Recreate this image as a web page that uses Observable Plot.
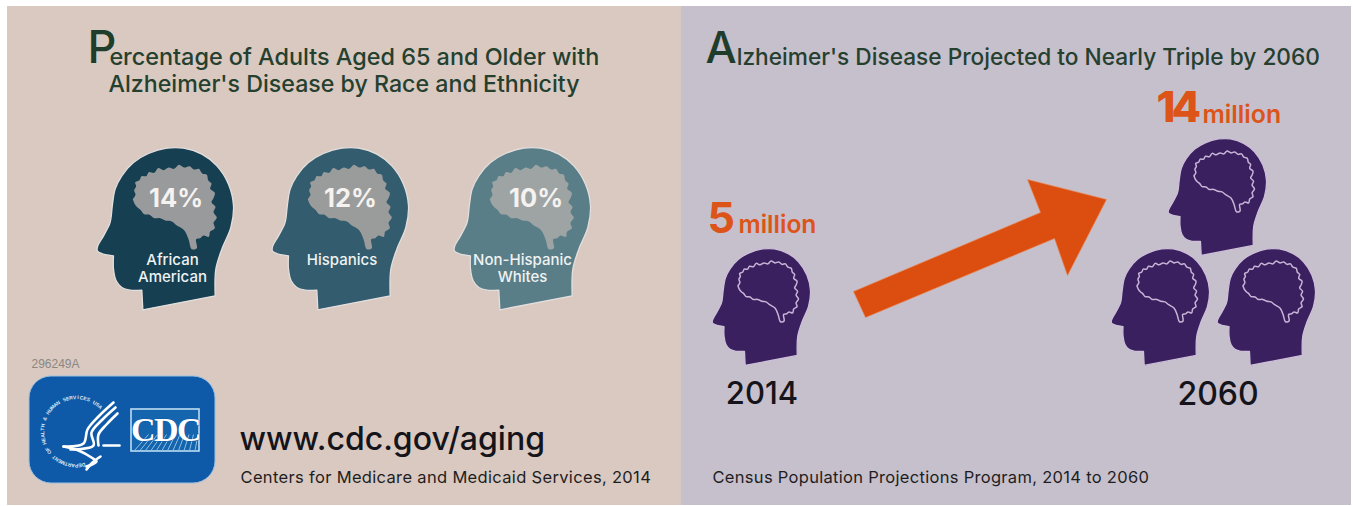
<!DOCTYPE html>
<html>
<head>
<meta charset="utf-8">
<title>Alzheimer's disease in older adults</title>
<style>
  html, body { margin: 0; padding: 0; background: #fff; }
  svg { display: block; }
</style>
<script src="https://cdn.jsdelivr.net/npm/d3@7"></script>
<script src="https://cdn.jsdelivr.net/npm/@observablehq/plot@0.6"></script>
</head>
<body>
<div id="chart"></div>
<script>
// Prevalence among adults aged 65 and older
const raceGroups = [["African", "American"], ["Hispanics"], ["Non-Hispanic", "Whites"]];
const racePercents = [14, 12, 10];
const raceHeadColors = ["#163f52", "#335d6e", "#5a7e88"];
const raceBrainColors = ["#989a9b", "#9a9c9c", "#9ea4a4"];

// National projection, in millions of people
const projectionYears = [2014, 2060];
const projectionMillions = [5, 14];
const millionsPerHead = 5;

// Head silhouette and brain contour, in drawing units of the glyph
const headOutline = [
  [188,507],[188,507],[185,448],[185,448],[150,448],[125,440],[108,420],[100,385],[100,345],[100,345],
  [70,340],[52,331],[52,318],[70,285],[88,250],[92,235],[97,190],[105,145],[125,105],[160,65],[205,38],[260,22],
  [310,22],[365,40],[410,75],[445,130],[460,195],[452,260],[425,325],[407,385],[405,465],[405,465],[188,507],[188,507]
];
const brainOutline = [
  [158,175],[166,162],[162,148],[168,136],[165,124],[178,118],[184,106],[198,106],[206,94],[222,96],[234,82],[250,88],
  [266,80],[282,84],[296,72],[312,80],[328,76],[342,86],[356,84],[366,98],[380,102],[384,118],[394,128],[390,144],
  [404,156],[400,172],[394,184],[406,198],[400,214],[410,230],[400,246],[404,262],[390,272],[386,288],[370,284],[360,292],
  [348,295],[350,322],[335,325],[325,295],[312,268],[290,254],[275,242],[258,240],[240,232],[222,232],[208,222],[192,220],
  [182,208],[172,200],[164,190],[158,175]
];
const arrowOutline = [[853,291],[1040,212],[1027,179],[1106,199],[1067,275],[1054,238],[865,317],[853,291]];

// HHS eagle strokes
const eagleStrokes = [
  [[113,402],[98,416],[87,429],[83,443],[63,446]],
  [[115,407],[102,419],[91,432],[93,445],[70,449]],
  [[117,413],[106,424],[98,434],[98,445]],
  [[63,446],[78,450],[91,457],[96,461],[86,466]],
  [[103,445],[119,445]],
  [[100,456],[92,462],[86,469]]
];
const sealText = "DEPARTMENT OF HEALTH & HUMAN SERVICES USA";

const titleLeft = ["Percentage of Adults Aged 65 and Older with", "Alzheimer's Disease by Race and Ethnicity"];
const titleRight = "Alzheimer's Disease Projected to Nearly Triple by 2060";
const sourceLeft = "Centers for Medicare and Medicaid Services, 2014";
const sourceRight = "Census Population Projections Program, 2014 to 2060";
const website = "www.cdc.gov/aging";
const documentId = "296249A";
const unitLabel = "million";

const FONT = "Inter, 'Noto Sans', sans-serif";

// Text helper: optional tracking, plus an enlarged first letter set in a tspan
function label(text, x, y, {tracking, initial, ...options} = {}) {
  return Plot.text([{text, x, y}], {
    x: "x", y: "y", text: "text",
    fontFamily: FONT, textAnchor: "start", lineAnchor: "middle", ...options,
    render(index, scales, values, dimensions, context, next) {
      const g = next(index, scales, values, dimensions, context);
      const node = g.querySelector("text");
      if (tracking != null) node.style.letterSpacing = `${tracking}px`;
      if (initial) {
        const content = node.textContent;
        node.textContent = "";
        const big = document.createElementNS("http://www.w3.org/2000/svg", "tspan");
        big.textContent = content[0];
        big.setAttribute("font-size", initial.size);
        big.setAttribute("fill", initial.fill);
        big.setAttribute("dy", initial.rise);
        big.style.letterSpacing = `${initial.tuck}px`;
        const rest = document.createElementNS("http://www.w3.org/2000/svg", "tspan");
        rest.textContent = content.slice(1);
        rest.setAttribute("dy", -initial.rise);
        node.append(big, rest);
      }
      return g;
    }
  });
}

function placed(points, left, top, scale) {
  return points.map(([u, v]) => ({x: left + (u - 52) * scale, y: top + (v - 20) * scale}));
}

function head(left, top, width, fill, halo, brain) {
  const scale = width / 408;
  return [
    Plot.line(placed(headOutline, left, top, scale), {x: "x", y: "y", curve: "catmull-rom", fill, stroke: halo, strokeWidth: 1.3}),
    Plot.line(placed(brainOutline, left, top, scale), {x: "x", y: "y", curve: "catmull-rom", ...brain})
  ];
}

const raceLayout = [{left: 97, pct: 175.5}, {left: 272, pct: 350}, {left: 454, pct: 535.5}];
const raceLabelCenters = [172, 341.5, 522];
const raceHeads = raceLayout.flatMap((p, i) => head(p.left, 147, 136, raceHeadColors[i], "#e3dfde", {fill: raceBrainColors[i]}));
const raceTexts = raceLayout.flatMap((p, i) => [
  label(`${racePercents[i]}%`, p.pct, 198, {textAnchor: "middle", fontSize: 25.5, fontWeight: 700, fill: "#f5f2ef"}),
  ...raceGroups[i].map((line, j) =>
    label(line, raceLabelCenters[i], 260 + j * 17, {textAnchor: "middle", fontSize: 15, fontWeight: 500, fill: "#eef2f2"}))
]);

// One purple head for each five million people
const projectionLayout = [
  [{left: 712, top: 248}],
  [{left: 1168, top: 138}, {left: 1111, top: 248}, {left: 1217, top: 248}]
];
const projectionHeads = projectionYears.flatMap((year, i) =>
  projectionLayout[i].slice(0, Math.round(projectionMillions[i] / millionsPerHead))
    .flatMap(p => head(p.left, p.top, 98, "#3a205e", "#cdbfd8", {fill: "none", stroke: "#c6b5d6", strokeWidth: 1.5})));

// Seal lettering set character by character around a circle
const sealCenter = [76, 431], sealRadius = 34;
const sealChars = [...sealText].map((ch, i, all) => {
  const deg = 168 + i * (236 / (all.length - 1));
  const rad = deg * Math.PI / 180;
  return {ch, deg, x: sealCenter[0] + sealRadius * Math.sin(rad), y: sealCenter[1] - sealRadius * Math.cos(rad)};
});

const hatch = [0, 1, 2, 3, 4, 5, 6, 7, 8, 9, 10, 11].map(i => ({x1: 134 + i * 5.5, y1: 450, x2: 148 + i * 4.5, y2: 434}));

const plot = Plot.plot({
  width: 1353, height: 506,
  margin: 0,
  x: {domain: [0, 1353], range: [0, 1353], axis: null},
  y: {domain: [0, 506], range: [0, 506], axis: null},
  style: {background: "#ffffff"},
  marks: [
    Plot.rect([{a: 7, b: 681}], {x1: "a", x2: "b", y1: () => 6, y2: () => 505, fill: "#d9c9c0"}),
    Plot.rect([{a: 681, b: 1351}], {x1: "a", x2: "b", y1: () => 6, y2: () => 505, fill: "#c6bfcc"}),

    label(titleLeft[0], 87, 57, {fontSize: 23.4, fontWeight: 500, fill: "#25402f", initial: {size: 45, fill: "#1f3d2a", rise: -2, tuck: -7}}),
    label(titleLeft[1], 343.5, 84, {textAnchor: "middle", fontSize: 23.2, fontWeight: 500, fill: "#25402f"}),
    label(titleRight, 705, 57, {fontSize: 22.7, fontWeight: 500, fill: "#25402f", initial: {size: 44, fill: "#1f3d2a", rise: -2, tuck: 0}}),

    ...raceHeads,
    ...raceTexts,

    // Department seal and CDC mark
    Plot.rect([{a: 29, b: 215}], {x1: "a", x2: "b", y1: () => 376, y2: () => 483, rx: 22, fill: "#0e5aa8", stroke: "#9cc0e0", strokeWidth: 1}),
    Plot.text(sealChars, {x: "x", y: "y", text: "ch", rotate: "deg", fontFamily: "'Liberation Sans'", fontSize: 5, fontWeight: 700, fill: "#dfe9f4"}),
    ...eagleStrokes.map(s => Plot.line(s.map(([x, y]) => ({x, y})), {x: "x", y: "y", curve: "catmull-rom", stroke: "#ffffff", strokeWidth: 2.6, strokeLinecap: "round"})),
    Plot.rect([{a: 131, b: 199}], {x1: "a", x2: "b", y1: () => 409, y2: () => 451, fill: "#1565ae", stroke: "#bcdcf2", strokeWidth: 1.6}),
    Plot.link(hatch, {x1: "x1", y1: "y1", x2: "x2", y2: "y2", stroke: "#8fc0e6", strokeWidth: 1}),
    label("CDC", 165, 430, {textAnchor: "middle", fontFamily: "'Liberation Serif'", fontSize: 34, fontWeight: 700, fill: "#ffffff", stroke: "#0e5aa8", strokeWidth: 0.8, tracking: -1.5}),

    label(documentId, 31, 364, {fontSize: 12, fill: "#8b8782", fontFamily: "'Liberation Sans'"}),
    label(website, 239, 439, {fontSize: 32, fontWeight: 500, fill: "#14141a"}),
    label(sourceLeft, 240, 477, {fontSize: 16.5, fontWeight: 400, fill: "#1e1e22", tracking: 0.33}),
    label(sourceRight, 712, 477, {fontSize: 16.5, fontWeight: 400, fill: "#1e1e22", tracking: 0.3}),

    // Projection panel
    Plot.line(arrowOutline.map(([x, y]) => ({x, y})), {x: "x", y: "y", fill: "#dc4e10", stroke: "#e98a55", strokeWidth: 0.6}),
    ...projectionHeads,
    label(`${projectionMillions[0]}`, 707, 219, {fontSize: 43, fontWeight: 700, fill: "#dc5418"}),
    label(unitLabel, 738, 225, {fontSize: 24.6, fontWeight: 600, fill: "#dc5418"}),
    label(`${projectionMillions[1]}`, 1156, 108, {fontSize: 43, fontWeight: 800, fill: "#dc5418", tracking: -4}),
    label(unitLabel, 1202, 115, {fontSize: 24.8, fontWeight: 600, fill: "#dc5418"}),
    label(`${projectionYears[0]}`, 761.5, 394, {textAnchor: "middle", fontSize: 31, fontWeight: 500, fill: "#14141a"}),
    label(`${projectionYears[1]}`, 1217.5, 394, {textAnchor: "middle", fontSize: 32, fontWeight: 500, fill: "#14141a"})
  ]
});
document.getElementById("chart").appendChild(plot);
</script>
</body>
</html>
